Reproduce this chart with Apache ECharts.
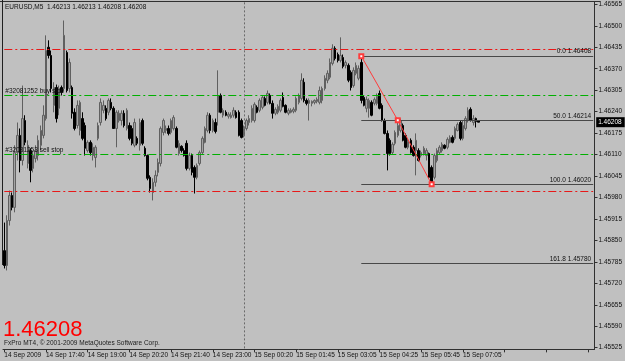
<!DOCTYPE html>
<html><head><meta charset="utf-8">
<script src="https://cdn.jsdelivr.net/npm/echarts@6/dist/echarts.min.js"></script>
<style>html,body{margin:0;padding:0;background:#c0c0c0}#c{width:625px;height:361px}</style>
</head><body><div id="c"></div>
<script>
const symbolName = 'EURUSD,M5';
// [open, high, low, close]
const ohlc = [
[1.45819,1.45904,1.45765,1.45774],[1.45774,1.45926,1.45759,1.45910],[1.45910,1.46001,1.45895,1.45986],[1.45986,1.45995,1.45941,1.45950],
[1.45950,1.46138,1.45935,1.46116],[1.46116,1.46207,1.46092,1.46168],[1.46168,1.46189,1.46056,1.46092],[1.46092,1.46319,1.46077,1.46219],
[1.46213,1.46229,1.46138,1.46147],[1.46083,1.46153,1.46068,1.46138],[1.46122,1.46129,1.46026,1.46062],[1.46068,1.46122,1.46056,1.46107],
[1.46098,1.46138,1.46086,1.46122],[1.46107,1.46168,1.46092,1.46153],[1.46138,1.46198,1.46122,1.46183],[1.46168,1.46259,1.46159,1.46229],
[1.46219,1.46471,1.46213,1.46425],[1.46435,1.46456,1.46401,1.46410],[1.46410,1.46425,1.46298,1.46310],[1.46259,1.46329,1.46238,1.46313],
[1.46313,1.46322,1.46207,1.46219],[1.46250,1.46319,1.46229,1.46310],[1.46313,1.46319,1.46289,1.46298],[1.46310,1.46516,1.46304,1.46471],
[1.46419,1.46425,1.46298,1.46304],[1.46310,1.46401,1.46298,1.46389],[1.46313,1.46319,1.46219,1.46235],[1.46238,1.46250,1.46183,1.46189],
[1.46198,1.46274,1.46189,1.46259],[1.46183,1.46274,1.46168,1.46268],[1.46219,1.46238,1.46153,1.46159],[1.46198,1.46207,1.46107,1.46129],
[1.46122,1.46153,1.46116,1.46147],[1.46147,1.46153,1.46107,1.46116],[1.46107,1.46144,1.46092,1.46132],[1.46101,1.46138,1.46071,1.46132],
[1.46159,1.46207,1.46153,1.46198],[1.46207,1.46280,1.46198,1.46268],[1.46244,1.46274,1.46235,1.46259],[1.46250,1.46259,1.46213,1.46219],
[1.46238,1.46280,1.46229,1.46274],[1.46268,1.46280,1.46244,1.46250],[1.46250,1.46256,1.46189,1.46189],[1.46189,1.46244,1.46132,1.46238],
[1.46213,1.46244,1.46207,1.46235],[1.46213,1.46244,1.46198,1.46235],[1.46235,1.46244,1.46192,1.46198],[1.46189,1.46250,1.46183,1.46244],
[1.46198,1.46207,1.46153,1.46159],[1.46189,1.46198,1.46138,1.46144],[1.46138,1.46219,1.46132,1.46207],[1.46159,1.46165,1.46138,1.46144],
[1.46138,1.46219,1.46122,1.46207],[1.46213,1.46219,1.46138,1.46144],[1.46129,1.46135,1.46104,1.46107],[1.46107,1.46110,1.46032,1.46038],
[1.46041,1.46047,1.45995,1.46007],[1.45995,1.46038,1.45971,1.46026],[1.46026,1.46062,1.46013,1.46047],[1.46056,1.46098,1.46044,1.46086],
[1.46083,1.46195,1.46074,1.46189],[1.46177,1.46219,1.46168,1.46213],[1.46183,1.46198,1.46174,1.46189],[1.46189,1.46198,1.46168,1.46174],
[1.46177,1.46219,1.46171,1.46213],[1.46189,1.46229,1.46183,1.46222],[1.46189,1.46195,1.46129,1.46132],[1.46113,1.46153,1.46107,1.46144],
[1.46135,1.46138,1.46116,1.46122],[1.46122,1.46129,1.46104,1.46107],[1.46144,1.46153,1.46062,1.46068],[1.46068,1.46116,1.46062,1.46107],
[1.46107,1.46113,1.46047,1.46056],[1.46071,1.46077,1.45992,1.46041],[1.46041,1.46083,1.46035,1.46077],[1.46083,1.46122,1.46077,1.46116],
[1.46116,1.46165,1.46110,1.46159],[1.46147,1.46195,1.46144,1.46189],[1.46183,1.46238,1.46177,1.46229],[1.46229,1.46235,1.46174,1.46183],
[1.46183,1.46219,1.46177,1.46213],[1.46207,1.46219,1.46174,1.46180],[1.46238,1.46365,1.46198,1.46289],[1.46289,1.46295,1.46235,1.46238],
[1.46229,1.46250,1.46222,1.46244],[1.46238,1.46244,1.46226,1.46229],[1.46226,1.46238,1.46219,1.46232],[1.46222,1.46238,1.46219,1.46229],
[1.46229,1.46253,1.46222,1.46244],[1.46238,1.46244,1.46219,1.46222],[1.46238,1.46244,1.46165,1.46168],[1.46213,1.46219,1.46159,1.46162],
[1.46168,1.46198,1.46162,1.46189],[1.46189,1.46219,1.46183,1.46213],[1.46207,1.46229,1.46198,1.46219],[1.46213,1.46259,1.46207,1.46250],
[1.46213,1.46268,1.46207,1.46262],[1.46253,1.46259,1.46235,1.46238],[1.46244,1.46280,1.46238,1.46274],[1.46253,1.46289,1.46247,1.46283],
[1.46280,1.46286,1.46256,1.46259],[1.46268,1.46304,1.46262,1.46295],[1.46289,1.46295,1.46262,1.46265],[1.46265,1.46274,1.46219,1.46235],
[1.46235,1.46253,1.46229,1.46247],[1.46238,1.46262,1.46232,1.46256],[1.46244,1.46280,1.46238,1.46274],[1.46283,1.46298,1.46253,1.46256],
[1.46259,1.46262,1.46235,1.46238],[1.46235,1.46250,1.46229,1.46244],[1.46238,1.46250,1.46235,1.46244],[1.46241,1.46253,1.46235,1.46247],
[1.46244,1.46286,1.46238,1.46280],[1.46268,1.46295,1.46262,1.46289],[1.46280,1.46356,1.46274,1.46335],[1.46329,1.46341,1.46268,1.46274],
[1.46274,1.46280,1.46259,1.46265],[1.46265,1.46280,1.46213,1.46274],[1.46265,1.46274,1.46256,1.46271],[1.46268,1.46277,1.46262,1.46274],
[1.46271,1.46283,1.46265,1.46277],[1.46268,1.46316,1.46262,1.46304],[1.46274,1.46316,1.46265,1.46310],[1.46310,1.46350,1.46304,1.46341],
[1.46335,1.46365,1.46326,1.46356],[1.46344,1.46401,1.46338,1.46389],[1.46386,1.46444,1.46380,1.46432],[1.46432,1.46438,1.46395,1.46401],
[1.46413,1.46419,1.46389,1.46395],[1.46395,1.46465,1.46389,1.46410],[1.46404,1.46413,1.46371,1.46377],[1.46380,1.46395,1.46371,1.46389],
[1.46380,1.46386,1.46329,1.46335],[1.46359,1.46365,1.46304,1.46313],[1.46319,1.46374,1.46313,1.46365],[1.46356,1.46389,1.46350,1.46380],
[1.46341,1.46380,1.46335,1.46371],[1.46389,1.46408,1.46265,1.46274],[1.46283,1.46289,1.46256,1.46259],[1.46250,1.46286,1.46238,1.46277],
[1.46250,1.46280,1.46222,1.46274],[1.46268,1.46274,1.46226,1.46229],[1.46265,1.46283,1.46259,1.46277],[1.46265,1.46295,1.46259,1.46286],
[1.46295,1.46304,1.46247,1.46250],[1.46259,1.46265,1.46210,1.46213],[1.46213,1.46219,1.46171,1.46174],[1.46174,1.46183,1.46062,1.46113],
[1.46153,1.46159,1.46107,1.46113],[1.46116,1.46147,1.46110,1.46141],[1.46144,1.46183,1.46138,1.46177],[1.46168,1.46213,1.46162,1.46198],
[1.46183,1.46219,1.46177,1.46213],[1.46198,1.46204,1.46150,1.46153],[1.46168,1.46174,1.46129,1.46132],[1.46132,1.46159,1.46126,1.46150],
[1.46153,1.46159,1.46113,1.46116],[1.46132,1.46138,1.46104,1.46107],[1.46122,1.46174,1.46047,1.46153],[1.46122,1.46129,1.46089,1.46092],
[1.46107,1.46122,1.46101,1.46116],[1.46113,1.46135,1.46107,1.46129],[1.46107,1.46129,1.46092,1.46122],[1.46113,1.46116,1.46038,1.46041],
[1.46071,1.46077,1.46020,1.46026],[1.46041,1.46113,1.46035,1.46107],[1.46092,1.46129,1.46086,1.46122],[1.46116,1.46138,1.46110,1.46132],
[1.46122,1.46147,1.46116,1.46141],[1.46138,1.46141,1.46126,1.46129],[1.46132,1.46162,1.46126,1.46156],[1.46147,1.46168,1.46144,1.46162],
[1.46162,1.46168,1.46144,1.46147],[1.46159,1.46195,1.46153,1.46189],[1.46183,1.46207,1.46180,1.46201],[1.46207,1.46213,1.46153,1.46159],
[1.46159,1.46213,1.46153,1.46198],[1.46189,1.46226,1.46183,1.46219],[1.46213,1.46253,1.46207,1.46244],[1.46247,1.46253,1.46210,1.46213],
[1.46207,1.46229,1.46198,1.46219],[1.46219,1.46222,1.46192,1.46210],[1.46213,1.46213,1.46208,1.46208]
];
const totalSlots = 227;
const labelEvery = 16;
const timeLabels = ['14 Sep 2009','14 Sep 17:40','14 Sep 19:00','14 Sep 20:20','14 Sep 21:40','14 Sep 23:00',
  '15 Sep 00:20','15 Sep 01:45','15 Sep 03:05','15 Sep 04:25','15 Sep 05:45','15 Sep 07:05'];
const priceTicks = [1.45525,1.45590,1.45655,1.45720,1.45785,1.45850,1.45915,1.45980,1.46045,1.46110,
  1.46175,1.46240,1.46305,1.46370,1.46435,1.46500,1.46565];
const yMin = 1.45520, yMax = 1.46571;
const stopLevels = [1.46428, 1.45998];      // red dash-dot
const orderLevels = [1.46289, 1.46110];     // green dash-dot
const orderLabels = ['#32081252 buy stop', '#32081253 sell stop'];
const fibRatios = ['0.0', '50.0', '100.0', '161.8'];
const fibPrices = [1.46408, 1.46214, 1.46020, 1.45780];
const fibStartIdx = 137, fibEndIdx = 164;
const separatorIdx = 92;
const copyright = 'FxPro MT4, \u00a9 2001-2009 MetaQuotes Software Corp.';

const FONT = 'Liberation Sans';
const categories = Array.from({length: totalSlots}, (_, i) => i);
const candleData = ohlc.map(d => [d[0], d[3], d[2], d[1]]);
const last = ohlc[ohlc.length - 1];
const endIdx = totalSlots - 1;
const dashDot = [8, 3, 2, 3];
const smallLabel = {fontSize: 6.5, fontFamily: FONT, color: '#101010'};

const span = (v, from) => [{coord: [from, v]}, {coord: [endIdx, v]}];

const fibHi = fibPrices[0], fibLo = fibPrices[2];
const trendPts = [[fibStartIdx, fibHi], [(fibStartIdx + fibEndIdx) / 2, (fibHi + fibLo) / 2], [fibEndIdx, fibLo]];

const helper = (markLine, z) => ({type: 'line', data: [], symbol: 'none', silent: true, z: z || 3,
  markLine: Object.assign({symbol: ['none', 'none'], silent: true, animation: false}, markLine)});

const chart = echarts.init(document.getElementById('c'), null, {renderer: 'canvas'});
chart.setOption({
  animation: false,
  backgroundColor: '#c0c0c0',
  grid: {left: 3, right: 25, top: 2.35, bottom: 11.65},
  xAxis: {
    type: 'category', data: categories, boundaryGap: true,
    axisLine: {show: true, lineStyle: {color: '#303030', width: 1}},
    axisTick: {show: true, alignWithLabel: true, interval: labelEvery - 1, length: 3, lineStyle: {color: '#303030'}},
    axisLabel: {interval: labelEvery - 1, align: 'left', margin: 2, fontSize: 6.5, fontFamily: FONT, color: '#101010',
      formatter: (v, idx) => (idx % labelEvery === 0 && timeLabels[idx / labelEvery]) ? timeLabels[idx / labelEvery] : ''},
    splitLine: {show: false}
  },
  yAxis: {
    type: 'value', position: 'right', min: yMin, max: yMax, scale: true,
    axisLine: {show: true, lineStyle: {color: '#303030', width: 1}},
    axisTick: {show: true, length: 3, customValues: priceTicks, lineStyle: {color: '#303030'}},
    axisLabel: {customValues: priceTicks, margin: 4, fontSize: 6.5, fontFamily: FONT, color: '#101010', formatter: v => v.toFixed(5)},
    splitLine: {show: false}
  },
  graphic: [
    {type: 'line', shape: {x1: 0, y1: 1.5, x2: 600, y2: 1.5}, style: {stroke: '#303030', lineWidth: 1}, z: 10},
    {type: 'line', shape: {x1: 2.5, y1: 0, x2: 2.5, y2: 265}, style: {stroke: '#202020', lineWidth: 1}, z: 10},
    {type: 'text', left: 5, top: 4, z: 20, style: {text: symbolName + '  ' + last.map(v => v.toFixed(5)).join(' '), fill: '#101010', font: '6.5px "' + FONT + '"'}},
    {type: 'text', left: 3, top: 319, z: 20, style: {text: last[3].toFixed(5), fill: '#ff0000', font: '22px "' + FONT + '"'}},
    {type: 'text', left: 4, top: 340, z: 21, style: {text: copyright, fill: '#202020', font: '6.5px "' + FONT + '"'}}
  ],
  series: [
    // stop levels (red)
    helper({lineStyle: {color: '#e81818', type: dashDot, width: 1}, label: {show: false},
      data: stopLevels.map(v => span(v, 0))}),
    // pending order levels (green)
    helper({lineStyle: {color: '#00b000', type: dashDot, width: 1},
      label: Object.assign({show: true, position: 'insideStartTop', distance: [1, 1]}, smallLabel),
      data: orderLevels.map((v, i) => { const s = span(v, 0); s[0].label = {formatter: orderLabels[i]}; return s; })}),
    // fibonacci levels
    helper({lineStyle: {color: '#484848', type: 'solid', width: 1},
      label: Object.assign({show: true, position: 'insideEndTop', distance: [2, 1]}, smallLabel),
      data: fibPrices.map((v, i) => { const s = span(v, fibStartIdx); s[0].label = {formatter: fibRatios[i] + ' ' + v.toFixed(5)}; return s; })}),
    // period separator
    helper({lineStyle: {color: '#6a6a6a', type: [2, 2], width: 1}, label: {show: false},
      data: [[{coord: [separatorIdx, yMax]}, {coord: [separatorIdx, yMin]}]]}, 2),
    {
      type: 'candlestick', data: candleData, barWidth: 2, clip: true, z: 4,
      itemStyle: {color: '#a4a4a4', color0: '#000000', borderColor: '#606060', borderColor0: '#000000', borderWidth: 1}
    },
    {
      type: 'line', data: trendPts, symbol: 'emptyRect', symbolSize: 4, showAllSymbol: true,
      lineStyle: {color: '#ff3b3b', width: 1}, itemStyle: {color: '#ff3b3b', borderColor: '#ff3b3b'}, z: 5
    },
    // current price box on the axis
    helper({lineStyle: {color: 'rgba(0,0,0,0)', width: 1},
      data: [[{coord: [endIdx - 1, last[3]]}, {coord: [endIdx, last[3]]}]],
      label: {show: true, position: 'end', distance: 3, formatter: last[3].toFixed(5), color: '#ffffff',
        backgroundColor: '#000000', padding: [2, 3, 1, 2], fontSize: 6.5, fontFamily: FONT}}, 6)
  ]
});
</script></body></html>
